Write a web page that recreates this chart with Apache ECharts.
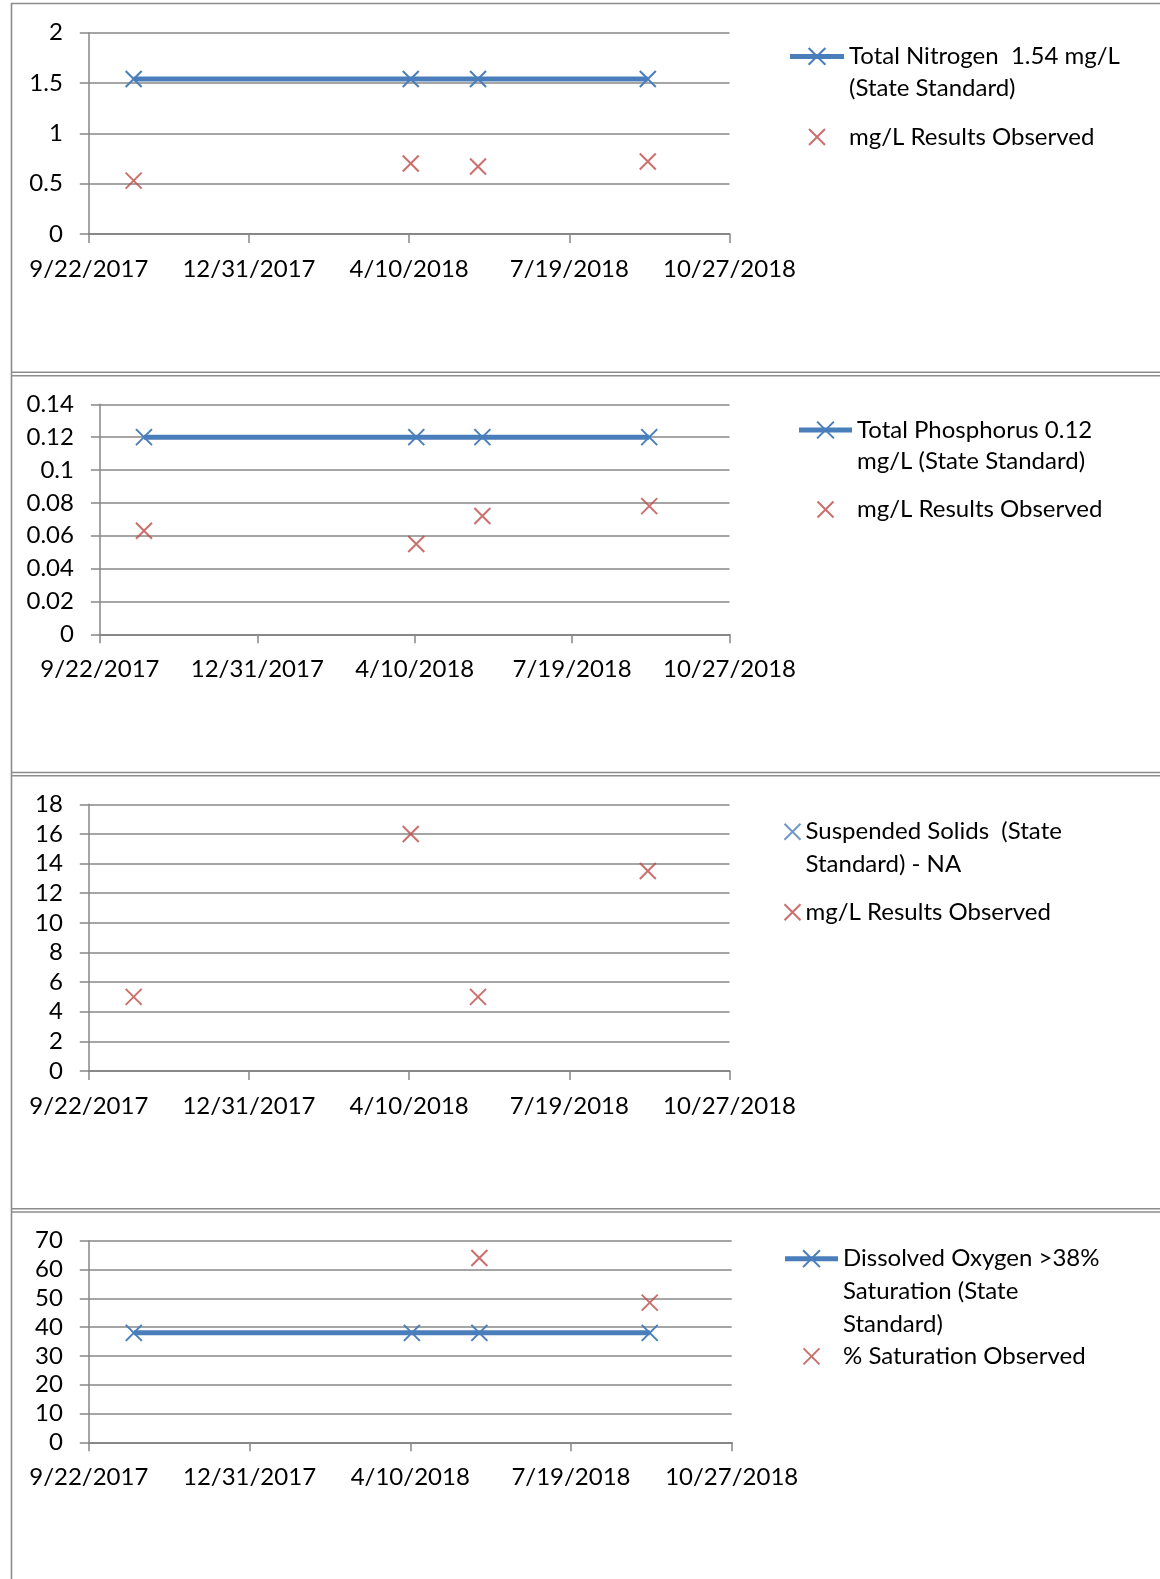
<!DOCTYPE html>
<html><head><meta charset="utf-8">
<script src="https://cdn.jsdelivr.net/npm/echarts@6/dist/echarts.min.js"></script>
<style>html,body{margin:0;padding:0;background:#fff}#c{width:1160px;height:1579px}</style>
</head><body><div id="c"></div>
<script>
// ---------- data ----------
const SAMPLE_DATES = ['2017-10-20', '2018-04-11', '2018-05-23', '2018-09-06'];
const X_TICK_LABELS = ['9/22/2017', '12/31/2017', '4/10/2018', '7/19/2018', '10/27/2018'];

const NITROGEN_STANDARD = [1.54, 1.54, 1.54, 1.54];
const NITROGEN_OBSERVED = [0.53, 0.70, 0.67, 0.72];
const PHOSPHORUS_STANDARD = [0.12, 0.12, 0.12, 0.12];
const PHOSPHORUS_OBSERVED = [0.063, 0.055, 0.072, 0.078];
const SOLIDS_STANDARD = [null, null, null, null];
const SOLIDS_OBSERVED = [5, 16, 5, 13.5];
const OXYGEN_STANDARD = [38, 38, 38, 38];
const OXYGEN_OBSERVED = [null, null, 64, 48.5];

const Y_MAX = [2, 0.14, 18, 70];
const Y_STEP = [0.5, 0.02, 2, 10];

const NAME_NITROGEN = 'Total Nitrogen  1.54 mg/L (State Standard)';
const NAME_PHOSPHORUS = 'Total Phosphorus 0.12 mg/L (State Standard)';
const NAME_SOLIDS = 'Suspended Solids  (State Standard) - NA';
const NAME_OXYGEN = 'Dissolved Oxygen >38% Saturation (State Standard)';
const NAME_OBS_MGL = 'mg/L Results Observed';
const NAME_OBS_SAT = '% Saturation Observed';

const LEGEND_LINES = {};
LEGEND_LINES[NAME_NITROGEN] = ['Total Nitrogen  1.54 mg/L', '(State Standard)'];
LEGEND_LINES[NAME_PHOSPHORUS] = ['Total Phosphorus 0.12', 'mg/L (State Standard)'];
LEGEND_LINES[NAME_SOLIDS] = ['Suspended Solids  (State', 'Standard) - NA'];
LEGEND_LINES[NAME_OXYGEN] = ['Dissolved Oxygen >38%', 'Saturation (State', 'Standard)'];
LEGEND_LINES[NAME_OBS_MGL] = ['mg/L Results Observed'];
LEGEND_LINES[NAME_OBS_SAT] = ['% Saturation Observed'];

// ---------- helpers ----------
const BLUE = '#4a7ebb', RED = '#be4b48', GRAY = '#878787', FONT = 'Lato', FS = 24;
const XMARK = 'path://M0,0L10,10M10,0L0,10';
const DAY = 86400000, EXCEL_EPOCH = Date.UTC(1899, 11, 30);
function serial(y, m, d) { return Math.round((Date.UTC(y, m - 1, d) - EXCEL_EPOCH) / DAY); }
function isoSerial(s) { const p = s.split('-').map(Number); return serial(p[0], p[1], p[2]); }
function mdySerial(s) { const p = s.split('/').map(Number); return serial(p[2], p[0], p[1]); }
function serialToMDY(v) {
  const dt = new Date(EXCEL_EPOCH + Math.round(v) * DAY);
  return (dt.getUTCMonth() + 1) + '/' + dt.getUTCDate() + '/' + dt.getUTCFullYear();
}
const X_MIN = mdySerial(X_TICK_LABELS[0]);
const X_MAX = mdySerial(X_TICK_LABELS[X_TICK_LABELS.length - 1]);
const X_STEP = mdySerial(X_TICK_LABELS[1]) - X_MIN;
function pts(vals) {
  return SAMPLE_DATES.map((d, i) => [isoSerial(d), vals[i]]).filter(p => p[1] != null);
}

// ---------- layout ----------
const PANELS = [
  { grid: { left: 88.8, top: 32.7, width: 640.7, height: 201.3 },
    std: NITROGEN_STANDARD, obs: NITROGEN_OBSERVED, stdName: NAME_NITROGEN, obsName: NAME_OBS_MGL, stdLine: true,
    legLeft: 790, legW: 54, line1Y: 56.4, obsY: 137, lh: 32.2 },
  { grid: { left: 99.9, top: 404.3, width: 629.6, height: 230 },
    std: PHOSPHORUS_STANDARD, obs: PHOSPHORUS_OBSERVED, stdName: NAME_PHOSPHORUS, obsName: NAME_OBS_MGL, stdLine: true,
    legLeft: 799, legW: 53, line1Y: 430, obsY: 509.5, lh: 31.6 },
  { grid: { left: 88.8, top: 804.3, width: 640.7, height: 266.7 },
    std: SOLIDS_STANDARD, obs: SOLIDS_OBSERVED, stdName: NAME_SOLIDS, obsName: NAME_OBS_MGL, stdLine: false,
    legLeft: 784.5, legW: 16, line1Y: 831.7, obsY: 912.3, lh: 32.3 },
  { grid: { left: 88.8, top: 1240.7, width: 642.9, height: 201.6 },
    std: OXYGEN_STANDARD, obs: OXYGEN_OBSERVED, stdName: NAME_OXYGEN, obsName: NAME_OBS_SAT, stdLine: true,
    legLeft: 785, legW: 53, line1Y: 1258.7, obsY: 1356.4, lh: 32.8 }
];

const grids = [], xAxes = [], yAxes = [], series = [], legends = [];

function legendText(name) {
  const lines = LEGEND_LINES[name];
  const pad = [];
  for (let k = 1; k < lines.length; k++) pad.push(' ');
  return pad.concat(lines).join('\n');
}
// The legend box aligns to the visible bounds of the icon, so shift `left`
// so that the icon column starts at legLeft and the text starts at legLeft+itemW+5.
function makeLegend(name, legLeft, centerY, itemW, itemH, color, isLine, lh) {
  const lines = LEGEND_LINES[name].length;
  const item = isLine ? { name: name } : { name: name, icon: XMARK };
  const left = isLine ? legLeft - 2.5 : legLeft + (itemW - itemH) / 2 - 1;
  return {
    show: true, left: left, top: centerY - (2 * lines - 1) * lh / 2, padding: 0,
    itemWidth: itemW, itemHeight: itemH, itemGap: 0, symbolKeepAspect: true,
    selectedMode: false, data: [item],
    formatter: legendText,
    textStyle: { fontFamily: FONT, fontSize: FS, color: '#000', lineHeight: lh },
    itemStyle: { color: color, borderColor: color, borderWidth: 2 },
    lineStyle: { color: color, width: 5 }
  };
}

PANELS.forEach((p, i) => {
  grids.push(Object.assign({ containLabel: false, outerBoundsMode: 'none' }, p.grid));
  xAxes.push({
    type: 'value', gridIndex: i, min: X_MIN, max: X_MAX, interval: X_STEP,
    axisLine: { show: true, onZero: false, lineStyle: { color: GRAY, width: 2.2 } },
    axisTick: { show: true, inside: false, length: 9, lineStyle: { color: GRAY, width: 1.5 } },
    splitLine: { show: false },
    axisLabel: { show: true, margin: 23, fontFamily: FONT, fontSize: FS, color: '#000', formatter: serialToMDY }
  });
  yAxes.push({
    type: 'value', gridIndex: i, min: 0, max: Y_MAX[i], interval: Y_STEP[i],
    axisLine: { show: true, lineStyle: { color: GRAY, width: 1.5 } },
    axisTick: { show: true, inside: false, length: 9, lineStyle: { color: GRAY, width: 1.5 } },
    splitLine: { show: true, lineStyle: { color: GRAY, width: 1.5 } },
    axisLabel: { show: true, margin: 26, fontFamily: FONT, fontSize: FS, color: '#000' }
  });
  if (p.stdLine) {
    series.push({
      type: 'line', name: p.stdName, xAxisIndex: i, yAxisIndex: i, data: pts(p.std),
      symbol: XMARK, symbolSize: 16, showSymbol: true, showAllSymbol: true,
      lineStyle: { color: BLUE, width: 5 },
      itemStyle: { color: BLUE, borderColor: BLUE, borderWidth: 2 },
      emphasis: { disabled: true }, z: 3
    });
    legends.push(makeLegend(p.stdName, p.legLeft, p.line1Y, p.legW, 21, BLUE, true, p.lh));
  } else {
    series.push({
      type: 'scatter', name: p.stdName, xAxisIndex: i, yAxisIndex: i, data: pts(p.std),
      symbol: XMARK, symbolSize: 16,
      itemStyle: { color: BLUE, borderColor: BLUE, borderWidth: 2 }, emphasis: { disabled: true }, z: 3
    });
    legends.push(makeLegend(p.stdName, p.legLeft, p.line1Y, p.legW, 16, BLUE, false, p.lh));
  }
  series.push({
    type: 'scatter', name: p.obsName, xAxisIndex: i, yAxisIndex: i, data: pts(p.obs),
    symbol: XMARK, symbolSize: 16,
    itemStyle: { color: RED, borderColor: RED, borderWidth: 2 }, emphasis: { disabled: true }, z: 3
  });
  legends.push(makeLegend(p.obsName, p.legLeft, p.obsY, p.legW, 16, RED, false, p.lh));
});

// ---------- page frame (decoration) ----------
const FRAME = '#8c8c8c';
function hline(y) { return { type: 'line', shape: { x1: 11, y1: y, x2: 1160, y2: y }, style: { stroke: FRAME, lineWidth: 1.6 }, silent: true }; }
const graphics = [
  hline(3.5),
  { type: 'line', shape: { x1: 11.5, y1: 3, x2: 11.5, y2: 1579 }, style: { stroke: FRAME, lineWidth: 1.6 }, silent: true },
  hline(372.3), hline(375.7),
  hline(772.5), hline(775.7),
  hline(1208.7), hline(1212)
];

const chart = echarts.init(document.getElementById('c'), null, { renderer: 'canvas' });
chart.setOption({
  animation: false,
  backgroundColor: '#fff',
  grid: grids, xAxis: xAxes, yAxis: yAxes, series: series, legend: legends,
  graphic: graphics
});
</script>
</body></html>
